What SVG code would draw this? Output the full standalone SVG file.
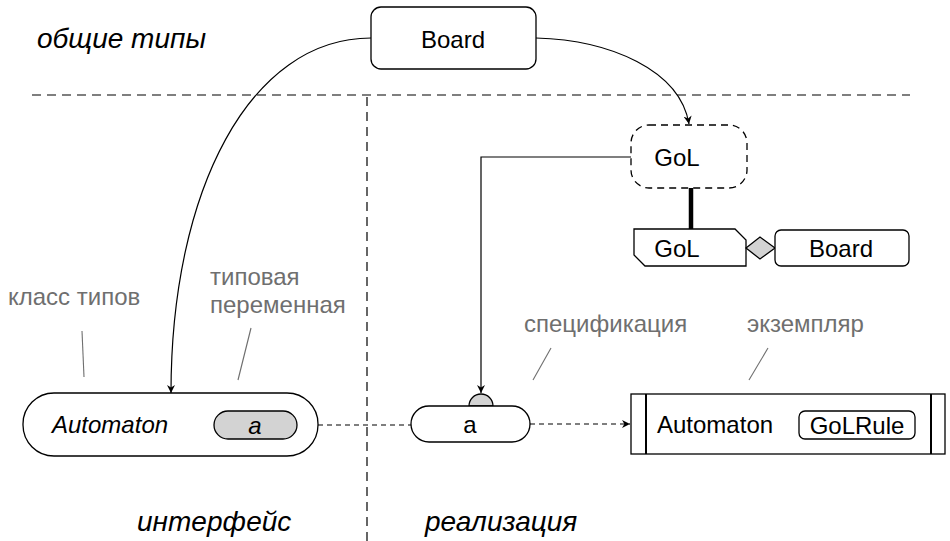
<svg xmlns="http://www.w3.org/2000/svg" width="950" height="541" viewBox="0 0 950 541">
  <defs>
    <marker id="arrow" viewBox="0 0 10 10" refX="10" refY="5" markerWidth="8" markerHeight="8" markerUnits="userSpaceOnUse" orient="auto">
      <path d="M0,0 L10,5 L0,10 L3,5 Z" fill="#000"/>
    </marker>
    <style>
      text { font-family: "Liberation Sans", Arial, sans-serif; fill: #000; }
      .node { fill: #fff; stroke: #000; stroke-width: 1.3; }
      .gray { fill: #d3d3d3; stroke: #000; stroke-width: 1.3; }
      .lbl { font-size: 24px; text-anchor: middle; dominant-baseline: central; }
      .note { font-size: 24px; fill: #6f6f6f; }
      .leader { stroke: #6f6f6f; stroke-width: 1.1; fill: none; }
      .area { font-size: 28px; font-style: italic; }
      .divider { stroke: #000; stroke-width: 1.2; stroke-dasharray: 9 6; fill: none; }
      .edge { stroke: #000; stroke-width: 1.2; fill: none; }
      .dep { stroke: #000; stroke-width: 1.2; fill: none; stroke-dasharray: 5 4; }
    </style>
  </defs>

  <!-- area dividers -->
  <path class="divider" d="M32,95 H910"/>
  <path class="divider" d="M367,97 V541"/>

  <!-- area titles -->
  <text class="area" x="37" y="48">общие типы</text>
  <text class="area" x="137" y="531">интерфейс</text>
  <text class="area" x="425" y="531">реализация</text>

  <!-- annotations -->
  <text class="note" x="8" y="305">класс типов</text>
  <text class="note" x="210" y="285">типовая</text>
  <text class="note" x="210" y="313">переменная</text>
  <text class="note" x="524" y="332">спецификация</text>
  <text class="note" x="747" y="332">экземпляр</text>
  <g id="leaders">
    <path class="leader" d="M82,331 L84,377"/>
    <path class="leader" d="M251,328 L238,380"/>
    <path class="leader" d="M551,348 L533,380"/>
    <path class="leader" d="M768,348 L749,380"/>
  </g>

  <!-- connectors -->
  <g id="connectors">
    <path class="edge" d="M371,38 C250,38 171,190 171,393" marker-end="url(#arrow)"/>
    <path class="edge" d="M536,38 C610,40 680,70 689,124" marker-end="url(#arrow)"/>
    <path class="edge" d="M631,157 H481 V393" marker-end="url(#arrow)"/>
    <path d="M691,188 V229" stroke="#000" stroke-width="4.5" fill="none"/>
    <path class="dep" d="M318,425 H411"/>
    <path class="dep" d="M530,424 H630" marker-end="url(#arrow)"/>
  </g>

  <!-- shared type Board -->
  <g id="board-top">
    <rect class="node" x="371" y="7" width="165" height="62" rx="10"/>
    <text class="lbl" x="453" y="39">Board</text>
  </g>

  <!-- GoL type (dashed) -->
  <g id="gol-dashed">
    <rect x="631" y="125" width="116" height="63" rx="18" fill="#fff" stroke="#000" stroke-width="1.3" stroke-dasharray="7 5"/>
    <text class="lbl" x="677" y="157">GoL</text>
  </g>

  <!-- GoL data definition -->
  <g id="gol-data">
    <path class="node" d="M634,229 H735 L746,240 V266 H645 L634,255 Z"/>
    <text class="lbl" x="677" y="248">GoL</text>
  </g>

  <!-- aggregation diamond -->
  <g id="gol-board-link">
    <path class="gray" d="M746,248 L760,237 L775,248 L760,259 Z"/>
  </g>

  <g id="board-field">
    <rect class="node" x="775" y="230" width="134" height="36" rx="6"/>
    <text class="lbl" x="841" y="248">Board</text>
  </g>

  <!-- type class Automaton -->
  <g id="automaton-class">
    <rect class="node" x="23" y="393" width="295" height="63" rx="31"/>
    <text x="52" y="433" font-size="24" font-style="italic">Automaton</text>
    <rect class="gray" x="214" y="411" width="83" height="28" rx="14"/>
    <text class="lbl" x="255" y="425" font-style="italic" font-size="21">a</text>
  </g>

  <!-- specification a -->
  <g id="spec-a">
    <path class="gray" d="M469,406 A12,12 0 0 1 493,406 Z"/>
    <rect class="node" x="411" y="406" width="119" height="36" rx="18"/>
    <text class="lbl" x="470" y="424" font-size="21">a</text>
  </g>

  <!-- instance Automaton GoLRule -->
  <g id="instance">
    <rect class="node" x="631" y="394" width="314" height="60"/>
    <path d="M646,394 V454 M931,394 V454" stroke="#000" stroke-width="2"/>
    <text x="657" y="433" font-size="24">Automaton</text>
    <rect class="node" x="799" y="411" width="116" height="28" rx="6"/>
    <text class="lbl" x="857" y="425" font-size="17">GoLRule</text>
  </g>
</svg>
